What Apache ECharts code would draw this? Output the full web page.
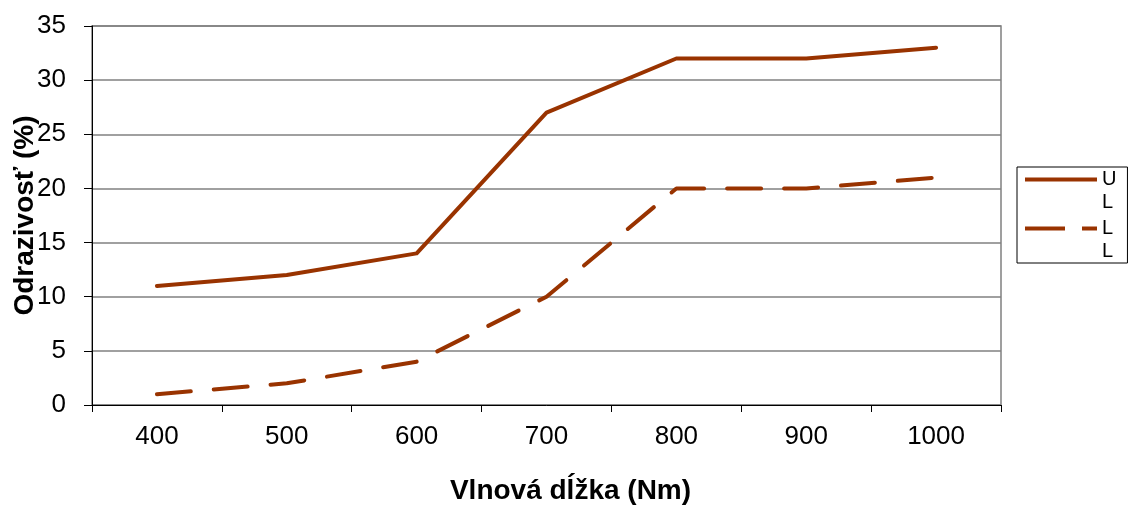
<!DOCTYPE html>
<html>
<head>
<meta charset="utf-8">
<script src="https://cdn.jsdelivr.net/npm/echarts@6/dist/echarts.min.js"></script>
<style>
html,body{margin:0;padding:0;background:#fff;}
#chart{width:1131px;height:511px;}
</style>
</head>
<body>
<div id="chart"></div>
<script>
const categories = ['400', '500', '600', '700', '800', '900', '1000'];
const seriesUL = [11, 12, 14, 27, 32, 32, 33];
const seriesLL = [1, 2, 4, 10, 20, 20, 21];
const seriesNames = ['UL', 'LL'];
const xTitle = 'Vlnová dĺžka (Nm)';
const yTitle = 'Odrazivosť (%)';

const lineColor = '#993300';
const font = 'Arial, "Liberation Sans", sans-serif';

const chart = echarts.init(document.getElementById('chart'), null, {renderer: 'canvas'});
chart.setOption({
  animation: false,
  backgroundColor: '#ffffff',
  textStyle: {fontFamily: font},
  grid: {left: 92, right: 130, top: 26, bottom: 106, show: true, borderColor: '#808080', borderWidth: 1.5, containLabel: false, outerBoundsMode: 'none'},
  legend: {
    orient: 'vertical',
    left: 1017,
    top: 167,
    padding: [1, 11, 0, 8],
    itemGap: 3,
    itemWidth: 72,
    itemHeight: 46,
    symbolKeepAspect: false,
    borderColor: '#000000',
    borderWidth: 1,
    borderRadius: 0,
    itemStyle: {borderWidth: 0},
    textStyle: {fontSize: 20, color: '#000000', lineHeight: 23, fontFamily: font},
    formatter: function (name) { return name.split('').join('\n'); },
    data: [
      {name: seriesNames[0], icon: 'path://M0,0 L0,0 Z M0,9.5 h72 v4 h-72 Z M0,46 L0,46 Z'},
      {name: seriesNames[1], icon: 'path://M0,0 L0,0 Z M0,9.5 h40 v4 h-40 Z M57,9.5 h15 v4 h-15 Z M0,46 L0,46 Z'}
    ]
  },
  xAxis: {
    type: 'category',
    data: categories,
    boundaryGap: true,
    name: xTitle,
    nameLocation: 'middle',
    nameGap: 72,
    nameMoveOverlap: false,
    nameTextStyle: {fontSize: 28, fontWeight: 'bold', color: '#000000', padding: [0, 0, 0, 48], fontFamily: font},
    axisLine: {show: true, lineStyle: {color: '#000000', width: 1}},
    axisTick: {show: true, length: 7, alignWithLabel: false, lineStyle: {color: '#000000'}},
    axisLabel: {fontSize: 26, color: '#000000', margin: 19, fontFamily: font},
    splitLine: {show: false}
  },
  yAxis: {
    type: 'value',
    min: 0,
    max: 35,
    interval: 5,
    name: yTitle,
    nameLocation: 'middle',
    nameGap: 53,
    nameRotate: 90,
    nameMoveOverlap: false,
    nameTextStyle: {fontSize: 28, fontWeight: 'bold', color: '#000000', fontFamily: font},
    axisLine: {show: true, lineStyle: {color: '#000000', width: 1}},
    axisTick: {show: true, length: 8, lineStyle: {color: '#000000'}},
    axisLabel: {fontSize: 26, color: '#000000', margin: 26, fontFamily: font},
    splitLine: {show: true, lineStyle: {color: '#808080', width: 1.5}}
  },
  series: [
    {
      name: seriesNames[0],
      type: 'line',
      data: seriesUL,
      symbol: 'none',
      itemStyle: {color: lineColor},
      lineStyle: {color: lineColor, width: 4, cap: 'round', join: 'round'}
    },
    {
      name: seriesNames[1],
      type: 'line',
      data: seriesLL,
      symbol: 'none',
      itemStyle: {color: lineColor},
      lineStyle: {color: lineColor, width: 4, type: [34, 23], cap: 'round', join: 'round'}
    }
  ]
});
</script>
</body>
</html>
